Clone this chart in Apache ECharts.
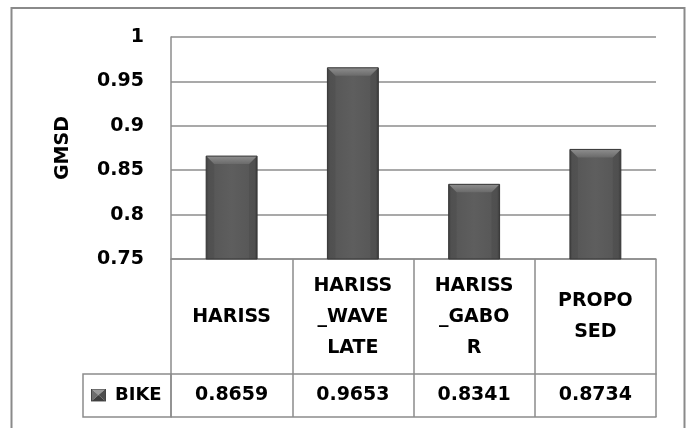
<!DOCTYPE html>
<html>
<head>
<meta charset="utf-8">
<title>GMSD – BIKE</title>
<script src="https://cdn.jsdelivr.net/npm/echarts@6/dist/echarts.min.js"></script>
<style>
  html, body { margin: 0; padding: 0; background: #ffffff; }
  #chart { width: 689px; height: 428px; }
</style>
</head>
<body>
<div id="chart"></div>
<script>
// Method names as they appear (wrapped) in the data table header cells
const categories = ['HARISS', 'HARISS\n_WAVE\nLATE', 'HARISS\n_GABO\nR', 'PROPO\nSED'];
// GMSD scores for the BIKE image
const bikeValues = [0.8659, 0.9653, 0.8341, 0.8734];
const seriesName = 'BIKE';
// Value axis range and step
const yMin = 0.75;
const yMax = 1;
const yStep = 0.05;

const FONT = 'DejaVu Sans';
const LINE = '#8c8c8c';
const TEXT = '#000000';

// Small bevelled square used as the legend key
const keySvg =
  '<svg xmlns="http://www.w3.org/2000/svg" width="15" height="13" viewBox="0 0 15 13">' +
  '<polygon points="0,0 15,0 7.5,6.5" fill="#9a9a9a"/>' +
  '<polygon points="0,0 7.5,6.5 0,13" fill="#6e6e6e"/>' +
  '<polygon points="15,0 15,13 7.5,6.5" fill="#4c4c4c"/>' +
  '<polygon points="0,13 15,13 7.5,6.5" fill="#3c3c3c"/>' +
  '<rect x="0.5" y="0.5" width="14" height="12" fill="none" stroke="#444" stroke-width="1"/>' +
  '</svg>';
const keyIcon = 'image://data:image/svg+xml;charset=utf-8,' + encodeURIComponent(keySvg);

// Bar with an angled top bevel, positioned through the axes
function renderBevelBar(params, api) {
  const cat = api.value(0);
  const val = api.value(1);
  const top = api.coord([cat, val]);
  const base = api.coord([cat, yMin]);
  const w = api.size([1, 0])[0] * 0.42;
  const x0 = top[0] - w / 2;
  const x1 = top[0] + w / 2;
  const y0 = top[1];
  const y1 = base[1];
  const b = Math.min(8, (y1 - y0) / 2);
  return {
    type: 'group',
    children: [
      {
        type: 'rect',
        shape: { x: x0, y: y0, width: w, height: y1 - y0 },
        style: {
          fill: new echarts.graphic.LinearGradient(0, 0, 1, 0, [
            { offset: 0, color: '#454545' },
            { offset: 0.05, color: '#565656' },
            { offset: 0.5, color: '#5e5e5e' },
            { offset: 0.95, color: '#565656' },
            { offset: 1, color: '#404040' }
          ])
        }
      },
      {
        type: 'polygon',
        shape: { points: [[x0, y0], [x0 + b, y0 + b], [x0 + b, y1], [x0, y1]] },
        style: { fill: 'rgba(40,40,40,0.12)' }
      },
      {
        type: 'polygon',
        shape: { points: [[x1, y0], [x1, y1], [x1 - b, y1], [x1 - b, y0 + b]] },
        style: { fill: 'rgba(30,30,30,0.12)' }
      },
      {
        type: 'polygon',
        shape: { points: [[x0, y0], [x1, y0], [x1 - b, y0 + b], [x0 + b, y0 + b]] },
        style: {
          fill: new echarts.graphic.LinearGradient(0, 0, 0, 1, [
            { offset: 0, color: '#8e8e8e' },
            { offset: 1, color: '#6a6a6a' }
          ])
        }
      },
      {
        type: 'rect',
        shape: { x: x0, y: y0, width: w, height: y1 - y0 },
        style: { fill: 'none', stroke: '#363636', lineWidth: 1 }
      }
    ]
  };
}

const chart = echarts.init(document.getElementById('chart'), null, { renderer: 'canvas' });

const tableLine = { show: true, lineStyle: { color: LINE, width: 1.5 } };
const cellText = { color: TEXT, fontFamily: FONT, fontWeight: 'bold', fontSize: 19 };

chart.setOption({
  backgroundColor: '#ffffff',
  animation: false,
  textStyle: { fontFamily: FONT },
  grid: { left: 171, right: 33, top: 37, bottom: 169, containLabel: false },
  legend: {
    show: true,
    left: 91,
    top: 386,
    itemWidth: 15,
    itemHeight: 13,
    padding: 0,
    data: [{ name: seriesName, icon: keyIcon }],
    textStyle: { color: TEXT, fontFamily: FONT, fontWeight: 'bold', fontSize: 18, padding: [0, 0, 0, 4] }
  },
  xAxis: [
    {
      // header row: method names, column dividers drawn as long ticks
      type: 'category',
      data: categories,
      position: 'bottom',
      axisLine: tableLine,
      axisTick: { show: true, alignWithLabel: false, length: 158, lineStyle: { color: LINE, width: 1.5 } },
      axisLabel: Object.assign({ margin: 58, verticalAlign: 'middle', align: 'center', lineHeight: 31, interval: 0 }, cellText),
      splitLine: { show: false }
    },
    {
      // value row: BIKE scores
      type: 'category',
      data: categories,
      position: 'bottom',
      offset: 115,
      axisLine: tableLine,
      axisTick: { show: false },
      axisLabel: Object.assign({
        margin: 21.5, verticalAlign: 'middle', align: 'center', interval: 0,
        formatter: (v, i) => bikeValues[i].toFixed(4)
      }, cellText),
      splitLine: { show: false }
    },
    {
      // bottom edge of the table
      type: 'category',
      data: categories,
      position: 'bottom',
      offset: 158,
      axisLine: tableLine,
      axisTick: { show: false },
      axisLabel: { show: false },
      splitLine: { show: false }
    }
  ],
  yAxis: {
    type: 'value',
    min: yMin,
    max: yMax,
    interval: yStep,
    name: 'GMSD',
    nameLocation: 'middle',
    nameGap: 98,
    nameRotate: 90,
    nameTextStyle: { color: TEXT, fontFamily: FONT, fontWeight: 'bold', fontSize: 19 },
    axisLine: { show: true, lineStyle: { color: LINE, width: 1.5 } },
    axisTick: { show: false },
    axisLabel: { margin: 27, color: TEXT, fontFamily: FONT, fontWeight: 'bold', fontSize: 19 },
    splitLine: { show: true, lineStyle: { color: LINE, width: 1.5 } }
  },
  series: [
    {
      name: seriesName,
      type: 'custom',
      xAxisIndex: 0,
      yAxisIndex: 0,
      renderItem: renderBevelBar,
      encode: { x: 0, y: 1 },
      itemStyle: { color: '#5a5a5a' },
      data: bikeValues.map((v, i) => [i, v])
    }
  ],
  graphic: [
    {
      // chart frame
      type: 'rect',
      silent: true,
      z: 100,
      shape: { x: 11.5, y: 8, width: 673, height: 440 },
      style: { fill: 'none', stroke: '#8a8a8a', lineWidth: 2 }
    },
    {
      // legend cell of the data table
      type: 'rect',
      silent: true,
      z: 100,
      shape: { x: 83, y: 374, width: 88, height: 43 },
      style: { fill: 'none', stroke: LINE, lineWidth: 1.5 }
    }
  ]
});
</script>
</body>
</html>
